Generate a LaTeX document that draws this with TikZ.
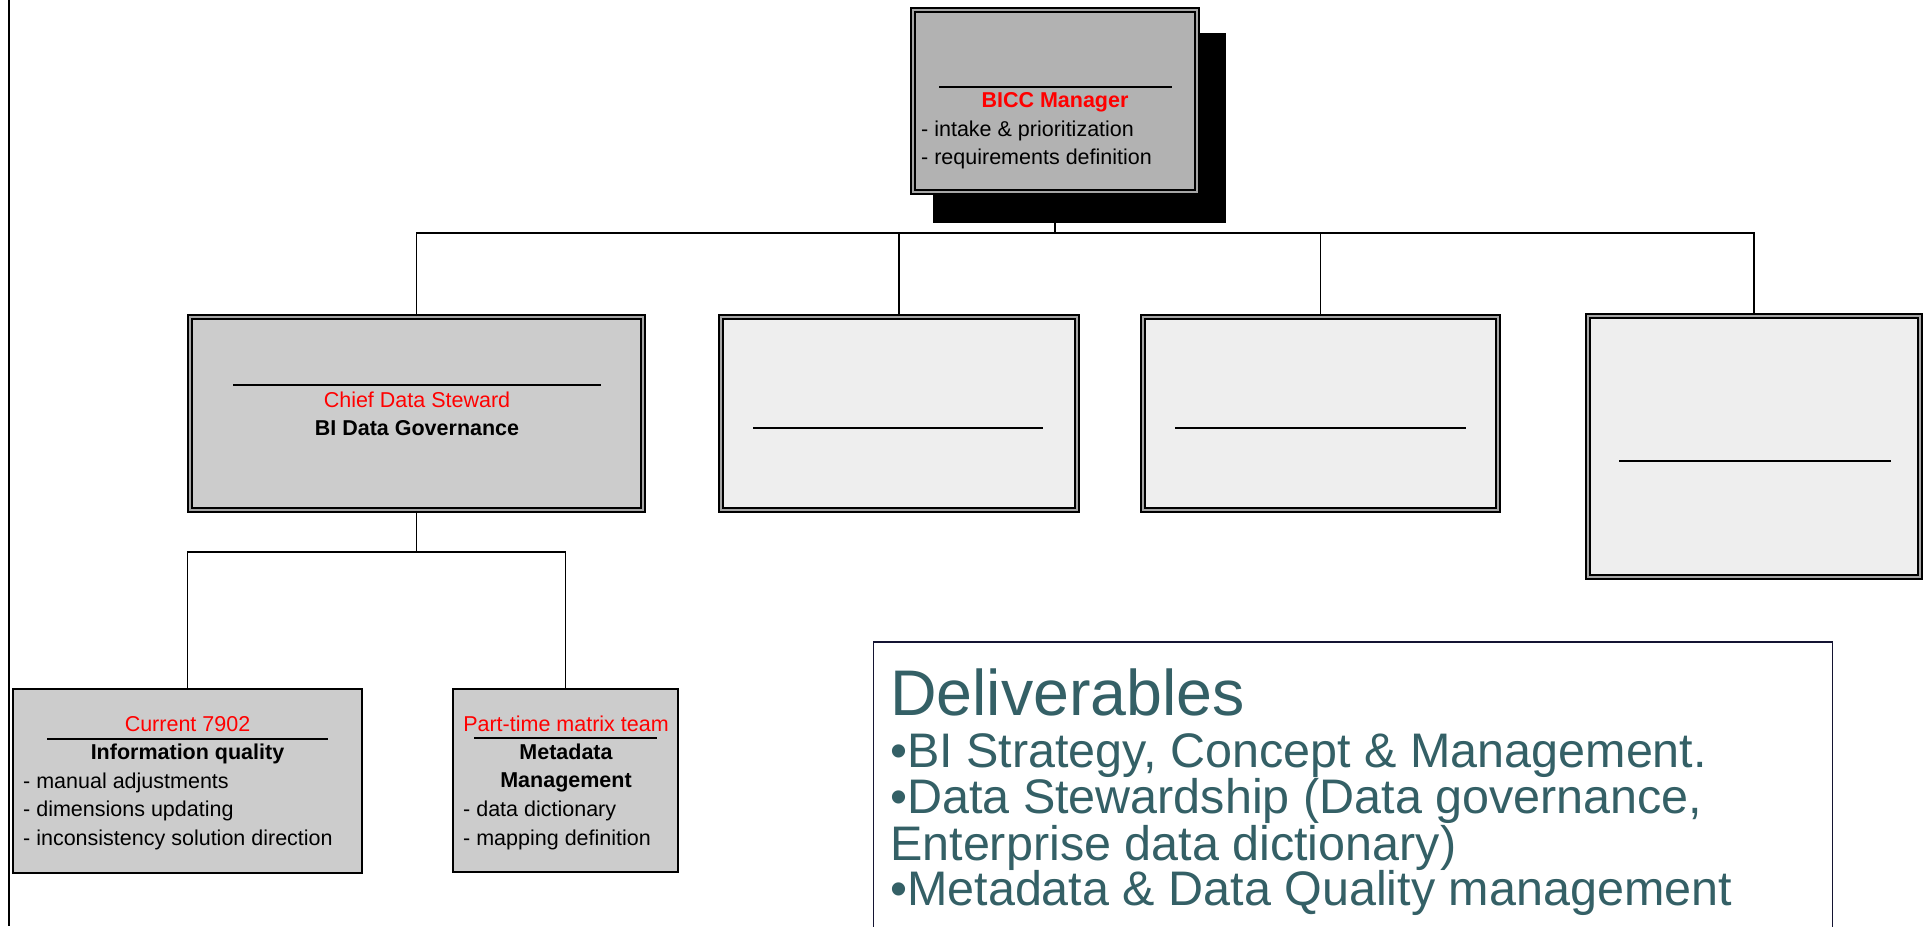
\documentclass[tikz,border=0pt]{standalone}
\usepackage{fontspec}
\setmainfont{Liberation Sans}
\usetikzlibrary{backgrounds,calc}

\definecolor{gMid}{RGB}{178,178,178}
\definecolor{gLight}{RGB}{204,204,204}
\definecolor{gPale}{RGB}{238,238,238}
\definecolor{delivtxt}{RGB}{52,96,102}
\definecolor{delivframe}{RGB}{20,20,50}

\tikzset{
  dbox/.style={rectangle, draw=black, line width=1.6pt, double=black!35,
               double distance=2.8pt, inner sep=0pt},
  sbox/.style={rectangle, draw=black, line width=2pt, inner sep=0pt},
  txt/.style={inner sep=0pt, font=\fontsize{21.5}{28.5}\selectfont},
  txtb/.style={inner sep=0pt, font=\fontsize{21.5}{28.5}\selectfont\bfseries},
  rule/.style={line width=1.8pt},
  wire/.style={line width=1.8pt},
  delhead/.style={inner sep=0pt, text=delivtxt, font=\fontsize{64.5}{64}\selectfont},
  delitem/.style={inner sep=0pt, text=delivtxt, font=\fontsize{48.5}{48}\selectfont}
}

\begin{document}
\begin{tikzpicture}[x=1pt,y=-1pt]
\useasboundingbox (0,0) rectangle (1924,926);
\clip (0,0) rectangle (1924,926);
\begin{scope}[on background layer]
  \fill[white] (0,0) rectangle (1924,926);
\end{scope}

% page margin rule
\coordinate (lt) at (9,0);
\coordinate (lb) at (9,926);
\draw[wire] (lt) -- (lb);

% top manager box with its drop shadow
\node[dbox, fill=gMid, minimum width=284pt, minimum height=182pt] (bicc) at (1055,101) {};
\begin{scope}[on background layer]
  \fill[black] ($(bicc.north west)+(21,24)$) rectangle ($(bicc.south east)+(28,30)$);
\end{scope}

% second level
\node[dbox, fill=gLight, minimum width=453pt, minimum height=193pt] (cds) at (416.5,413.5) {};
\node[dbox, fill=gPale,  minimum width=356pt, minimum height=193pt] (e1) at (899,413.5) {};
\node[dbox, fill=gPale,  minimum width=355pt, minimum height=193pt] (e2) at (1320.5,413.5) {};
\node[dbox, fill=gPale,  minimum width=332pt, minimum height=261pt] (e3) at (1754,446.5) {};

% third level
\node[sbox, fill=gLight, minimum width=349pt, minimum height=184pt] (iq) at (187.5,781) {};
\node[sbox, fill=gLight, minimum width=225pt, minimum height=183pt] (md) at (565.5,780.5) {};

% deliverables panel
\node[rectangle, draw=delivframe, line width=1.5pt, fill=white, inner sep=0pt,
      minimum width=959pt, minimum height=320pt] (deliv) at (1353,802) {};

% connectors
\coordinate (bus) at (0,233);
\coordinate (bus2) at (0,552);
\draw[wire] (bicc.south) -- (bicc.south |- bus);
\draw[wire] (cds.north) |- (e3.north |- bus) -- (e3.north);
\draw[wire] (e1.north) -- (e1.north |- bus);
\draw[wire] (e2.north) -- (e2.north |- bus);
\draw[wire] (cds.south) -- (cds.south |- bus2);
\draw[wire] (iq.north) |- (md.north |- bus2) -- (md.north);

% rules inside the boxes
\draw[rule] (939,87) -- (1172,87);
\draw[rule] (233,385) -- (601,385);
\draw[rule] (753,428) -- (1043,428);
\draw[rule] (1175,428) -- (1466,428);
\draw[rule] (1619,461) -- (1891,461);
\draw[rule] (47,739) -- (328,739);
\draw[rule] (474,738) -- (657,738);

% manager text
\node[txtb, anchor=base, text=red] (biccT) at (1055,107) {BICC Manager};
\node[txt, anchor=base west] (biccA) at (921,136) {- intake \& prioritization};
\node[txt, anchor=base west] (biccB) at (921,164.5) {- requirements definition};

% governance text
\node[txt, anchor=base, text=red] (cdsT) at (417,407) {Chief Data Steward};
\node[txtb, anchor=base] (cdsB) at (417,435) {BI Data Governance};

% information quality text
\node[txt, anchor=base, text=red] (iqT) at (187.5,731) {Current 7902};
\node[txtb, anchor=base] (iqB) at (187.5,759) {Information quality};
\node[txt, anchor=base west] (iq1) at (23,788) {- manual adjustments};
\node[txt, anchor=base west] (iq2) at (23,816.5) {- dimensions updating};
\node[txt, anchor=base west] (iq3) at (23,845) {- inconsistency solution direction};

% metadata text
\node[txt, anchor=base, text=red] (mdT) at (566,731) {Part-time matrix team};
\node[txtb, anchor=base] (mdB1) at (566,759) {Metadata};
\node[txtb, anchor=base] (mdB2) at (566,787) {Management};
\node[txt, anchor=base west] (md1) at (463,816.5) {- data dictionary};
\node[txt, anchor=base west] (md2) at (463,845) {- mapping definition};

% deliverables text
\node[delhead, anchor=base west] (dH) at (890,715) {Deliverables};
\node[delitem, anchor=base west] (d1) at (890,767) {•BI Strategy, Concept \& Management.};
\node[delitem, anchor=base west] (d2) at (890,813) {•Data Stewardship (Data governance,};
\node[delitem, anchor=base west] (d3) at (890,860) {Enterprise data dictionary)};
\node[delitem, anchor=base west] (d4) at (890,905) {•Metadata \& Data Quality management};
\end{tikzpicture}
\end{document}
